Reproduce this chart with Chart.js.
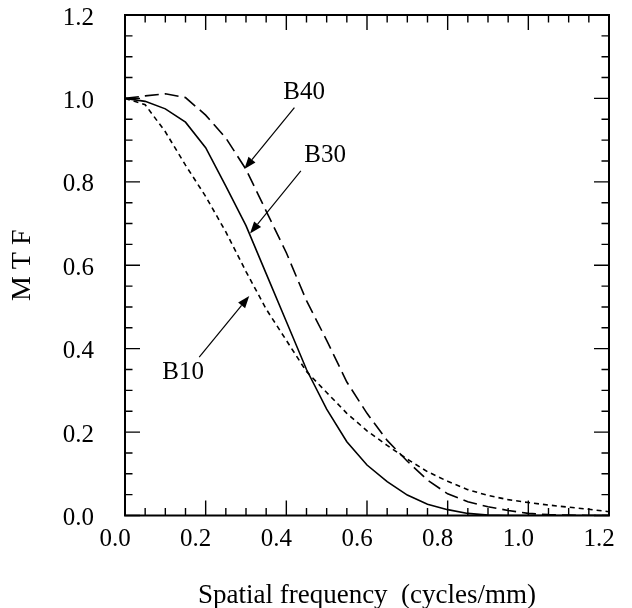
<!DOCTYPE html>
<html><head><meta charset="utf-8">
<script src="https://cdn.jsdelivr.net/npm/chart.js@4/dist/chart.umd.min.js"></script>
<style>html,body{margin:0;padding:0;background:#fff}#wrap{width:632px;height:608px}</style>
</head><body><div id="wrap"><canvas id="c" width="632" height="608"></canvas></div>
<script>
const freq   = [0, 0.05, 0.1, 0.15, 0.2, 0.25, 0.3, 0.35, 0.4, 0.45, 0.5, 0.55, 0.6, 0.65, 0.7, 0.75, 0.8, 0.85, 0.9, 0.95, 1.0, 1.05, 1.1, 1.15, 1.2];
const mtfB10 = [1.0, 0.985, 0.92, 0.84, 0.765, 0.68, 0.585, 0.495, 0.42, 0.345, 0.295, 0.245, 0.203, 0.168, 0.135, 0.105, 0.082, 0.062, 0.048, 0.038, 0.031, 0.025, 0.02, 0.015, 0.009];
const mtfB30 = [1.0, 0.993, 0.975, 0.943, 0.882, 0.79, 0.695, 0.58, 0.465, 0.35, 0.255, 0.177, 0.121, 0.081, 0.049, 0.027, 0.014, 0.005, 0.001, 0, 0, 0, 0, 0, 0];
const mtfB40 = [1.0, 1.006, 1.011, 1.002, 0.96, 0.905, 0.83, 0.73, 0.63, 0.515, 0.42, 0.32, 0.245, 0.18, 0.13, 0.085, 0.052, 0.033, 0.021, 0.012, 0.005, 0.002, 0.001, 0, 0];
const xTickValues = [0, 0.2, 0.4, 0.6, 0.8, 1.0, 1.2];
const yTickValues = [0, 0.2, 0.4, 0.6, 0.8, 1.0, 1.2];
const xTitle = 'Spatial frequency  (cycles/mm)';
const yTitle = 'M T F';
const labelNames = ['B40', 'B30', 'B10'];
const labelX     = [0.444, 0.496, 0.144];
const labelY     = [1.014, 0.863, 0.344];
const arrowFromX = [0.42, 0.436, 0.184];
const arrowFromY = [0.978, 0.826, 0.380];
const arrowToX   = [0.296, 0.31, 0.308];
const arrowToY   = [0.831, 0.676, 0.526];

const FONT = '"Liberation Serif", "Times New Roman", serif';

function pts(ys) { return freq.map((f, i) => ({x: f, y: ys[i]})); }

const framePlugin = {
  id: 'frame',
  afterDatasetsDraw(chart) {
    const {ctx, chartArea: a, scales: {x, y}} = chart;
    ctx.save();
    ctx.strokeStyle = '#000';
    ctx.fillStyle = '#000';
    ctx.lineWidth = 1.4;
    const minorStep = 0.05;
    const nSteps = Math.round((x.max - x.min) / minorStep);
    ctx.beginPath();
    for (let i = 0; i <= nSteps; i++) {
      const v = x.min + i * minorStep;
      const major = i % 4 === 0;
      const len = major ? 15 : 7.5;
      const px = x.getPixelForValue(v);
      ctx.moveTo(px, a.bottom); ctx.lineTo(px, a.bottom - len);
      ctx.moveTo(px, a.top); ctx.lineTo(px, a.top + len);
      const py = y.getPixelForValue(y.min + i * minorStep);
      ctx.moveTo(a.left, py); ctx.lineTo(a.left + len, py);
      ctx.moveTo(a.right, py); ctx.lineTo(a.right - len, py);
    }
    ctx.stroke();
    ctx.lineWidth = 2;
    ctx.strokeRect(a.left, a.top, a.right - a.left, a.bottom - a.top);

    // annotations
    ctx.font = '25px ' + FONT;
    ctx.textAlign = 'center';
    ctx.textBaseline = 'middle';
    for (let i = 0; i < labelNames.length; i++) {
      ctx.fillText(labelNames[i], x.getPixelForValue(labelX[i]), y.getPixelForValue(labelY[i]));
      const x0 = x.getPixelForValue(arrowFromX[i]), y0 = y.getPixelForValue(arrowFromY[i]);
      const x1 = x.getPixelForValue(arrowToX[i]),   y1 = y.getPixelForValue(arrowToY[i]);
      const ang = Math.atan2(y1 - y0, x1 - x0);
      const hl = 12, hw = 4.5;
      const bx = x1 - hl * Math.cos(ang), by = y1 - hl * Math.sin(ang);
      ctx.lineWidth = 1.2;
      ctx.beginPath(); ctx.moveTo(x0, y0); ctx.lineTo(bx, by); ctx.stroke();
      ctx.beginPath();
      ctx.moveTo(x1, y1);
      ctx.lineTo(bx + hw * Math.sin(ang), by - hw * Math.cos(ang));
      ctx.lineTo(bx - hw * Math.sin(ang), by + hw * Math.cos(ang));
      ctx.closePath(); ctx.fill();
    }
    ctx.restore();
  }
};

new Chart(document.getElementById('c'), {
  type: 'line',
  data: {
    datasets: [
      {label: 'B10', data: pts(mtfB10), borderColor: '#000', borderWidth: 1.6, borderDash: [5, 4], pointRadius: 0, tension: 0, fill: false},
      {label: 'B30', data: pts(mtfB30), borderColor: '#000', borderWidth: 1.6, pointRadius: 0, tension: 0, fill: false},
      {label: 'B40', data: pts(mtfB40), borderColor: '#000', borderWidth: 1.6, borderDash: [14, 6], pointRadius: 0, tension: 0, fill: false}
    ]
  },
  options: {
    responsive: false,
    animation: false,
    devicePixelRatio: 1,
    layout: {padding: {left: 0, right: 23, top: 15, bottom: 0}},
    plugins: {legend: {display: false}, tooltip: {enabled: false}},
    scales: {
      x: {
        type: 'linear', min: 0, max: 1.2,
        afterBuildTicks: s => { s.ticks = xTickValues.map(v => ({value: v})); },
        afterFit: s => { s.height = 92.5; s.paddingLeft = 0; s.paddingRight = 0; },
        grid: {display: false, drawTicks: false},
        border: {display: false},
        ticks: {color: '#000', font: {family: FONT, size: 25}, padding: 9, labelOffset: -10, maxRotation: 0, autoSkip: false,
                callback: v => Number(v).toFixed(1)},
        title: {display: true, text: xTitle, color: '#000', font: {family: FONT, size: 27}, padding: {top: 0, bottom: -4}}
      },
      y: {
        type: 'linear', min: 0, max: 1.2,
        afterBuildTicks: s => { s.ticks = yTickValues.map(v => ({value: v})); },
        afterFit: s => { s.width = 125; s.paddingTop = 0; s.paddingBottom = 0; },
        grid: {display: false, drawTicks: false},
        border: {display: false},
        ticks: {color: '#000', font: {family: FONT, size: 25}, padding: 31, labelOffset: 3, autoSkip: false,
                callback: v => Number(v).toFixed(1)},
        title: {display: true, text: yTitle, color: '#000', font: {family: FONT, size: 28}, padding: {top: 6, bottom: 0}}
      }
    }
  },
  plugins: [framePlugin]
});
</script>
</body></html>
